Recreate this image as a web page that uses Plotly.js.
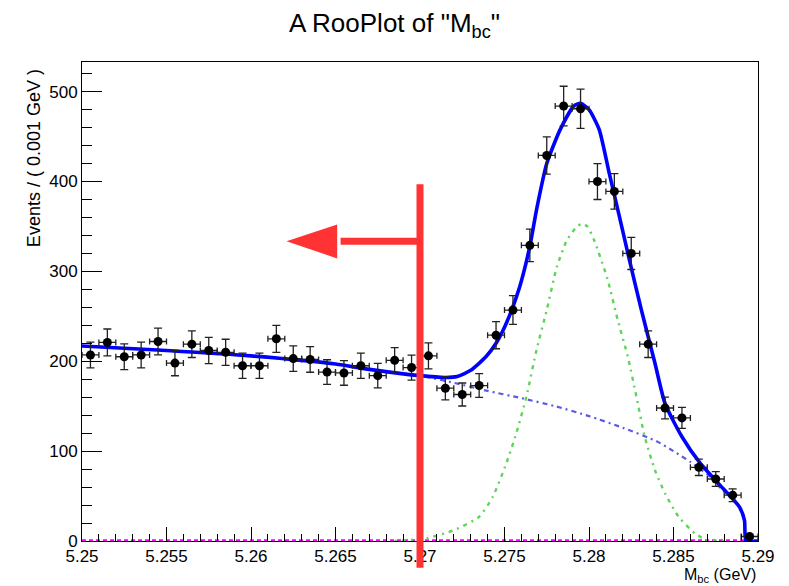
<!DOCTYPE html>
<html>
<head>
<meta charset="utf-8">
<script src="https://cdn.plot.ly/plotly-3.0.1.min.js"></script>
<style>html,body{margin:0;padding:0;background:#fff;}#chart{width:789px;height:586px;}</style>
</head>
<body>
<div id="chart"></div>
<script>
// ---- data ----
const binCenters = [5.2505,5.2515,5.2525,5.2535,5.2545,5.2555,5.2565,5.2575,5.2585,5.2595,
                    5.2605,5.2615,5.2625,5.2635,5.2645,5.2655,5.2665,5.2675,5.2685,5.2695,
                    5.2705,5.2715,5.2725,5.2735,5.2745,5.2755,5.2765,5.2775,5.2785,5.2795,
                    5.2805,5.2815,5.2825,5.2835,5.2845,5.2855,5.2865,5.2875,5.2885,5.2895];
const counts = [207,221,205,207,222,198,219,212,210,195,
                195,225,203,202,188,187,195,184,201,193,
                206,170,163,173,229,257,329,429,484,481,
                400,389,320,219,148,137,82,69,51,5];
const countErrors = [14.4,14.9,14.3,14.4,14.9,14.1,14.8,14.6,14.5,14.0,
                     14.0,15.0,14.2,14.2,13.7,13.7,14.0,13.6,14.2,13.9,
                     14.4,13.0,12.8,13.2,15.1,16.0,18.1,20.7,22.0,21.9,
                     20.0,19.7,17.9,14.8,12.2,11.7,9.1,8.3,7.1,2.2];
const binHalfWidth = 0.0005;

const totalX = [5.2500,5.2550,5.2600,5.2650,5.2670,5.2700,5.2715,5.2722,5.2730,5.2739,5.2745,5.2751,5.2759,5.2765,5.2769,
                5.2775,5.2783,5.2791,5.2795,5.2800,5.2806,5.2812,5.2818,5.2823,5.2831,5.2839,5.2845,5.2855,
                5.2866,5.2880,5.2889,5.2892,5.2893,5.2900];
const totalY = [217,212,206,197,191,184,182,183,190,205,220,242,283,328,369,
                420,458,484,487,480,458,409,361,320,257,198,153,116,
                86,57,38,23,0,0];

const bkgX = [5.2500,5.2550,5.2600,5.2650,5.2670,5.2700,5.2720,5.2740,5.2760,5.2780,5.2800,5.2820,5.2840,
              5.2850,5.2860,5.2870,5.2880,5.2885,5.2889,5.2892,5.2893,5.2900];
const bkgY = [217,212,206,197,191,184,176,167,159,150,139,126,111,
              100,88,74,55,48,37,22,0,0];

const sigX = [5.2685,5.2704,5.2720,5.2735,5.2743,5.2751,5.2757,5.2763,5.2769,5.2775,5.2781,5.2787,5.2793,
              5.2796,5.2799,5.2803,5.2811,5.2817,5.2823,5.2828,5.2833,5.2839,5.2845,5.2853,5.2863,5.2870,5.2880];
const sigY = [0,3,12,27,49,86,120,161,213,257,305,335,350,
              353,350,335,291,246,205,161,116,79,53,27,8,1,0];

const zeroX = [5.25, 5.29];
const zeroY = [0, 0];

const xTickVals = [5.25,5.255,5.26,5.265,5.27,5.275,5.28,5.285,5.29];
const xTickText = ["5.25","5.255","5.26","5.265","5.27","5.275","5.28","5.285","5.29"];
const yTickVals = [0,100,200,300,400,500];
const yTickText = ["0","100","200","300","400","500"];

const cutValue = 5.27;
const arrowTipX = 5.2621;
const arrowHeadBaseX = 5.2651;

// ---- plot ----
const FONT = "Liberation Sans, Arial, Helvetica, sans-serif";
const traces = [
  {x: zeroX, y: zeroY, mode: 'lines', line: {color: '#ff00ff', width: 3.5, dash: '4px,3px'}, hoverinfo: 'skip'},
  {x: sigX, y: sigY, mode: 'lines', line: {color: '#5fd35a', width: 2.4, dash: '2px,5px,4px,5px', shape: 'spline', smoothing: 0.6}},
  {x: bkgX, y: bkgY, mode: 'lines', line: {color: '#5a5ae6', width: 2.2, dash: '5px,4px,2px,4px', shape: 'spline', smoothing: 0.6}},
  {x: totalX, y: totalY, mode: 'lines', line: {color: '#0000ff', width: 3.6, shape: 'spline', smoothing: 0.6}},
  {x: binCenters, y: counts, mode: 'markers', cliponaxis: false,
   marker: {color: '#000', size: 9},
   error_y: {type: 'data', array: countErrors, visible: true, color: '#222', thickness: 1.3, width: 4},
   error_x: {type: 'constant', value: binHalfWidth, visible: true, color: '#222', thickness: 1.3, width: 3}}
];

const layout = {
  width: 789, height: 586,
  margin: {l: 81.5, r: 30.5, t: 62, b: 44.5, pad: 0},
  paper_bgcolor: '#fff', plot_bgcolor: '#fff',
  showlegend: false,
  font: {family: FONT, size: 17, color: '#000'},
  title: {text: 'A RooPlot of "M<sub>bc</sub>"', font: {family: FONT, size: 26, color: '#000'},
          x: 0.5, xref: 'container', xanchor: 'center', y: 0.976, yref: 'container', yanchor: 'top'},
  xaxis: {range: [5.25, 5.29], showgrid: false, zeroline: false,
          showline: true, linecolor: '#000', linewidth: 1, mirror: true,
          ticks: 'inside', ticklen: 14, tickcolor: '#000', tickwidth: 1,
          tickmode: 'array', tickvals: xTickVals, ticktext: xTickText,
          tickfont: {family: FONT, size: 17, color: '#000'},
          minor: {ticks: 'inside', ticklen: 7, tickcolor: '#000', tickwidth: 1, tickmode: 'linear', tick0: 5.25, dtick: 0.001, showgrid: false}},
  yaxis: {range: [0, 533], showgrid: false, zeroline: false,
          showline: true, linecolor: '#000', linewidth: 1, mirror: true,
          ticks: 'inside', ticklen: 20, tickcolor: '#000', tickwidth: 1,
          tickmode: 'array', tickvals: yTickVals, ticktext: yTickText,
          tickfont: {family: FONT, size: 17, color: '#000'},
          minor: {ticks: 'inside', ticklen: 10, tickcolor: '#000', tickwidth: 1, tickmode: 'linear', tick0: 0, dtick: 20, showgrid: false}},
  annotations: [
    {text: 'Events / ( 0.001 GeV )', textangle: -90, xref: 'paper', yref: 'paper',
     x: -0.072, y: 0.80, xanchor: 'center', yanchor: 'middle', showarrow: false,
     font: {family: FONT, size: 18, color: '#000'}},
    {text: 'M<sub>bc</sub> (GeV)', xref: 'paper', yref: 'paper',
     x: 1, y: -0.071, xanchor: 'right', yanchor: 'middle', showarrow: false,
     font: {family: FONT, size: 16, color: '#000'}}
  ],
  shapes: [
    {type: 'line', xref: 'x', yref: 'paper', x0: cutValue, x1: cutValue, y0: -0.056, y1: 0.745,
     line: {color: '#ff3333', width: 7}, layer: 'above'},
    {type: 'line', xref: 'x', yref: 'paper', x0: cutValue, x1: arrowHeadBaseX + 0.0002, y0: 0.6257, y1: 0.6257,
     line: {color: '#ff3333', width: 7}, layer: 'above'},
    {type: 'path', xref: 'x', yref: 'paper',
     path: 'M ' + arrowTipX + ',0.6257 L ' + arrowHeadBaseX + ',0.661 L ' + arrowHeadBaseX + ',0.590 Z',
     fillcolor: '#ff3333', line: {color: '#ff3333', width: 0}, layer: 'above'}
  ]
};

Plotly.newPlot('chart', traces, layout, {staticPlot: true, displayModeBar: false});
</script>
</body>
</html>
